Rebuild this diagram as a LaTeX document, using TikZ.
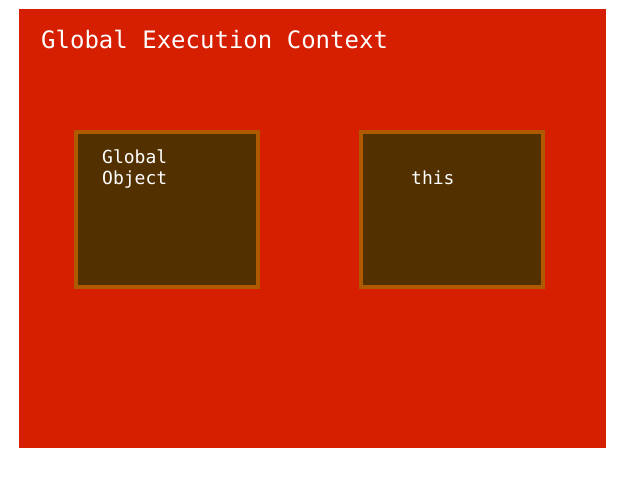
\documentclass[tikz,border=0pt]{standalone}
\usepackage{fontspec}
\setmonofont{DejaVu Sans Mono}
\usetikzlibrary{positioning}
\definecolor{ContextRed}{RGB}{213,31,0}
\definecolor{BoxFill}{RGB}{82,48,0}
\definecolor{BoxEdge}{RGB}{176,90,0}
\tikzset{%
	% Style of the context frame
	Context/.style={fill=ContextRed,draw=none,inner sep=0,minimum width=587pt,minimum height=439pt},
	% Style of the inner boxes
	Box/.style={fill=BoxFill,draw=BoxEdge,line width=4pt,inner sep=0,minimum width=182pt,minimum height=155pt},
	% Style of the title
	TitleName/.style={font=\ttfamily\fontsize{24}{28}\selectfont,white,inner sep=0},
	% Style of the box labels
	BoxName/.style={font=\ttfamily\fontsize{18}{21}\selectfont,white,inner sep=0,align=left},
}
\begin{document}
\begin{tikzpicture}[x=1pt,y=-1pt] % STYLES
\useasboundingbox (0,0) rectangle (640,480);

%~~~~~~~~~~~~~~~~~~~~~~~~~~~~~~~~~~~~~~~~~~~~~~~~~~
% Set Frame
%~~~~~~~~~~~~~~~~~~~~~~~~~~~~~~~~~~~~~~~~~~~~~~~~~~
\node[Context, anchor=north west] (GEC) at (19, 9) {};
\node[TitleName, anchor=base west] (GECName) at (41, 48) {Global Execution Context};

%~~~~~~~~~~~~~~~~~~~~~~~~~~~~~~~~~~~~~~~~~~~~~~~~~~
% Set Boxes
%~~~~~~~~~~~~~~~~~~~~~~~~~~~~~~~~~~~~~~~~~~~~~~~~~~
\node[Box, anchor=north west] (GO) at (74, 130) {};
\node[BoxName, anchor=north west] (GOName) at (102, 149.5) {Global\\Object};

\node[Box, anchor=north west] (This) at (359, 130) {};
\node[BoxName, anchor=base west] (ThisName) at (411, 184) {this};

\end{tikzpicture}
\end{document}
